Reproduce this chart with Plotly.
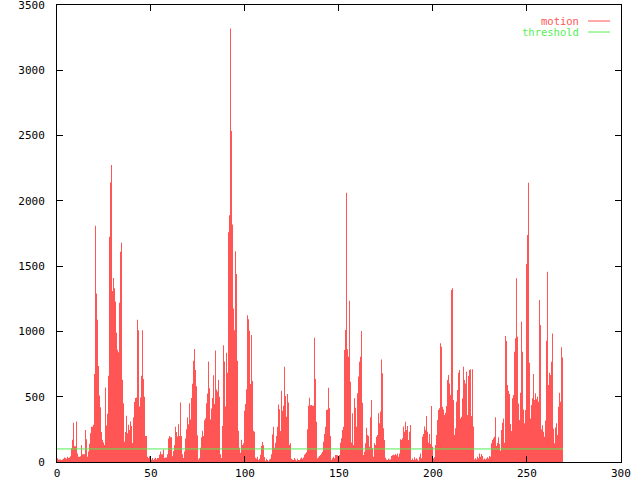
import plotly.graph_objects as go

# Sampling interval of the motion series (x units per sample)
SAMPLE_INTERVAL = 0.532

motion = [
    # 0 .. ~19
    28, 20, 20, 20, 15, 20, 25, 35, 30, 25, 40, 30, 35, 45, 105, 170, 300, 120, 120, 310,
    65, 40, 40, 45, 130, 60, 60, 60, 245, 175, 40, 80, 140, 220, 270, 270, 285,
    # ~20 .. ~45
    675, 1810, 1290, 1090, 735, 510, 420, 230, 170, 150, 130, 570, 280, 370, 660, 1725,
    2140, 2275, 1310, 1410, 1330, 1230, 990, 860, 840, 1220, 1610, 1680, 630, 450, 155,
    230, 355, 220, 285, 245, 310, 275, 145, 340, 460, 490, 495, 1090, 1010, 425, 495, 660, 1010,
    # ~46 .. ~61
    635, 500, 200, 200, 40, 30, 45, 30, 20, 30, 15, 25, 33, 20, 30, 30, 55, 80, 60, 60,
    95, 30, 35, 35, 60, 180, 200, 190, 190, 45,
    # ~62 .. ~89
    85, 130, 270, 230, 195, 290, 200, 455, 200, 60, 30, 80, 180, 250, 340, 290, 450, 325,
    490, 600, 775, 865, 705, 580, 205, 20, 30, 110, 190, 240, 200, 320, 335, 450, 525, 770,
    565, 325, 410, 490, 665, 445, 855, 555, 540, 630, 500, 60, 30, 275, 895, 770, 425,
    # ~90 .. ~136
    837, 684, 1760, 1890, 3320, 2535, 1820, 1175, 1010, 1615, 1440, 775, 240, 110, 70, 170,
    130, 143, 393, 445, 557, 1125, 1093, 1006, 597, 973, 620, 240, 232, 33, 25, 40, 15, 25,
    55, 122, 153, 128, 38, 10, 25, 15, 5, 20, 25, 60, 210, 270, 110, 148, 200, 270, 440, 405,
    237, 546, 393, 430, 730, 505, 347, 520, 455, 130, 143, 25, 20, 15, 30, 20, 10, 25, 15,
    15, 25, 35, 25, 35, 55, 65, 75, 250, 430, 493, 435, 437, 431, 431,
    # ~137 .. ~181
    952, 636, 309, 28, 36, 46, 54, 66, 79, 156, 214, 270, 398, 403, 569, 411, 199, 15, 28,
    41, 28, 54, 54, 51, 28, 54, 148, 181, 245, 270, 858, 1011, 2063, 863, 807, 1236, 615,
    150, 373, 130, 488, 416, 270, 526, 654, 768, 807, 1003, 454, 54, 79, 143, 263, 207, 199,
    117, 342, 475, 105, 41, 143, 130, 194, 207, 373, 296, 386, 786, 679, 258, 169, 33, 20,
    15, 26, 20, 20, 46, 51, 56, 51, 61, 51, 66, 41,
    # ~182 .. ~226
    66, 174, 168, 181, 271, 232, 309, 245, 276, 168, 232, 283, 15, 26, 15, 36, 20, 28, 20,
    10, 41, 66, 28, 194, 214, 271, 245, 352, 232, 148, 214, 138, 429, 117, 28, 36, 130, 207,
    322, 398, 411, 909, 883, 424, 403, 360, 378, 429, 628, 666, 602, 513, 1317, 1330, 475,
    207, 258, 462, 551, 684, 705, 334, 347, 488, 730, 628, 602, 692, 360, 659, 705, 710,
    352, 710, 271, 20, 28, 20, 41, 28, 66, 41, 61, 46,
    # ~227 .. ~269
    20, 26, 20, 26, 36, 26, 46, 41, 143, 168, 181, 194, 342, 123, 148, 189, 138, 87, 245,
    301, 334, 148, 965, 927, 590, 546, 521, 291, 237, 488, 513, 845, 947, 1407, 960, 449,
    322, 531, 1075, 845, 403, 296, 398, 1517, 1739, 2139, 761, 334, 437, 488, 674, 475, 526,
    480, 500, 462, 1241, 1049, 250, 281, 232, 194, 317, 929, 1458, 590, 684, 666, 768, 985,
    255, 143, 265, 296, 207, 424, 531, 462, 878, 801,
]
threshold_value = 100

x_ticks = [0, 50, 100, 150, 200, 250, 300]
y_ticks = [0, 500, 1000, 1500, 2000, 2500, 3000, 3500]

RED = "#ff5555"
GREEN = "#55ee55"
FONT = "DejaVu Sans Mono"

n = len(motion)
xs = [i * SAMPLE_INTERVAL for i in range(n + 1)]
ys = motion + [motion[-1]]

fig = go.Figure()
fig.add_trace(go.Scatter(
    x=xs, y=ys, mode="lines", line=dict(shape="hv", width=0, color=RED),
    fill="tozeroy", fillcolor=RED, name="motion", hoverinfo="skip",
))
fig.add_trace(go.Scatter(
    x=[0, xs[-1]], y=[threshold_value, threshold_value], mode="lines",
    line=dict(color=GREEN, width=1), name="threshold", hoverinfo="skip",
))

axis_common = dict(
    showline=True, linecolor="black", linewidth=1, mirror="allticks",
    ticks="inside", ticklen=6, tickcolor="black", tickwidth=1,
    showgrid=False, zeroline=False, automargin=False,
    ticklabeloverflow="allow",
    tickfont=dict(family=FONT, size=11, color="black"),
)
fig.update_xaxes(range=[0, 300.05], tickvals=x_ticks, ticktext=[str(v) for v in x_ticks],
                 ticklabelstandoff=1, **axis_common)
fig.update_yaxes(range=[0, 3500.5], tickvals=y_ticks, ticktext=[str(v) for v in y_ticks],
                 ticklabelstandoff=9, **axis_common)

# gnuplot-style key: text right-justified, sample line on the right
legend_items = [("motion", RED, 21), ("threshold", GREEN, 32)]
for label, color, py in legend_items:
    yp = (462 - py) / 457
    fig.add_annotation(x=(581 - 57) / 564, y=yp, xref="paper", yref="paper",
                       text=label, showarrow=False, xanchor="right", yanchor="middle",
                       font=dict(family=FONT, size=10.5, color=color))
    fig.add_shape(type="line", xref="paper", yref="paper",
                  x0=(588 - 57) / 564, x1=(610 - 57) / 564, y0=yp, y1=yp,
                  line=dict(color=color, width=1))

fig.update_layout(
    width=640, height=480, showlegend=False,
    margin=dict(l=57, r=19, t=5, b=18),
    paper_bgcolor="white", plot_bgcolor="white",
    font=dict(family=FONT, size=11, color="black"),
)

fig.write_html("out.html", config={"displayModeBar": False},
               post_script="document.body.style.margin='0';document.body.style.padding='0';")
